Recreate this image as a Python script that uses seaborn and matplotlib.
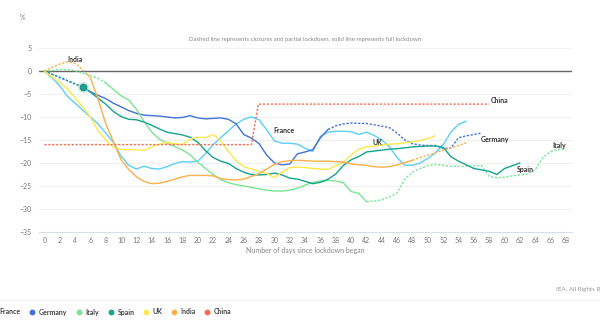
"""Mobility drop after lockdown, by country
"""

import matplotlib
matplotlib.use("Agg")
import matplotlib.pyplot as plt
from matplotlib.lines import Line2D
import seaborn as sns
import pandas as pd

# daily values (%), day 0 = start of lockdown
france = [0, -1.5, -3.2, -5.5, -7.0, -8.5, -10.0, -11.5, -13.5, -15.5, -18.5, -20.5, -21.3, -20.7,
          -21.2, -21.3, -20.8, -20.1, -19.7, -19.8, -19.6, -18.0, -16.0, -14.5, -13.0, -11.5, -10.5,
          -10.0, -10.6, -12.8, -15.2, -15.7, -15.7, -15.9, -16.8, -17.5, -14.2, -13.3, -13.1, -13.1,
          -13.2, -13.8, -13.3, -14.0, -15.0, -16.5, -18.8, -20.5, -20.5, -20.0, -19.0, -17.8, -16.0,
          -13.3, -11.6, -10.9]
germany = [0, -0.7, -1.4, -2.1, -2.8, -3.5, -4.5, -5.3, -6.0, -7.0, -7.8, -8.6, -9.2, -9.6, -9.7,
           -9.8, -10.0, -10.2, -10.1, -9.7, -10.2, -10.4, -10.3, -10.2, -10.5, -11.5, -13.8, -14.6,
           -15.8, -18.3, -20.0, -20.4, -20.2, -18.0, -17.6, -17.1, -14.5, -12.7, -11.9, -11.5, -11.3,
           -11.4, -11.4, -11.7, -12.0, -12.3, -13.5, -15.0, -15.8, -16.1, -16.2, -16.2, -16.8, -16.8,
           -14.5, -14.1, -13.8, -13.5]
italy = [0, 0.1, 0.3, 0.3, 0.1, -0.5, -1.0, -1.6, -2.6, -4.0, -5.4, -6.3, -8.3, -11.0, -13.3, -14.8,
         -15.7, -16.4, -17.2, -18.2, -19.8, -21.2, -22.5, -23.6, -24.3, -24.7, -25.0, -25.3, -25.6,
         -25.9, -26.1, -26.1, -25.9, -25.5, -24.8, -24.2, -23.9, -23.8, -23.9, -24.3, -26.2, -26.6,
         -28.4, -28.3, -28.0, -27.4, -26.5, -23.5, -22.0, -21.2, -20.6, -20.3, -20.5, -20.7, -20.7,
         -20.7, -20.6, -20.6, -22.9, -23.2, -23.1, -22.8, -22.6, -22.4, -21.5, -18.8, -17.5, -17.1,
         -16.9]
spain = [0, -0.7, -1.4, -2.1, -2.8, -3.5, -4.6, -5.9, -7.2, -8.8, -9.9, -10.5, -10.6, -11.1, -11.8,
         -12.6, -13.3, -13.6, -13.9, -14.4, -15.5, -17.3, -18.8, -19.6, -20.1, -21.2, -22.0, -22.5,
         -22.6, -22.5, -22.2, -22.6, -23.3, -23.5, -24.0, -24.5, -24.2, -23.5, -22.4, -20.5, -19.3,
         -18.6, -17.6, -17.4, -17.2, -17.0, -16.9, -16.7, -16.5, -16.4, -16.3, -16.3, -16.6, -18.6,
         -19.6, -20.4, -21.2, -21.5, -21.8, -22.5, -21.2, -20.6, -20.0]
uk = [0, -1.3, -2.5, -3.8, -5.8, -7.8, -10.0, -13.0, -15.0, -16.6, -17.1, -17.1, -17.1, -17.3, -16.5,
      -15.9, -15.5, -15.8, -16.0, -14.8, -14.4, -14.5, -13.8, -15.2, -17.5, -19.5, -20.8, -21.3,
      -21.8, -22.3, -23.2, -22.0, -21.0, -20.9, -21.0, -21.2, -21.3, -21.4, -20.6, -19.8, -18.3,
      -17.0, -16.5, -16.3, -16.1, -15.9, -15.8, -15.6, -15.4, -15.1, -14.7, -14.1]
india = [0, 0.8, 1.5, 2.0, 1.7, 0.3, -1.5, -6.0, -11.5, -15.3, -19.3, -21.4, -23.0, -24.0, -24.5,
         -24.4, -24.0, -23.5, -23.0, -22.7, -22.7, -22.7, -22.8, -23.4, -23.6, -23.7, -23.5, -22.9,
         -22.3, -21.3, -20.3, -19.7, -19.5, -19.4, -19.5, -19.6, -19.6, -19.6, -19.7, -19.8, -20.2,
         -20.4, -20.5, -20.8, -20.9, -20.8, -20.4, -19.9, -19.4, -18.8, -18.3, -17.8, -17.2, -16.8,
         -16.2, -15.6]
china_days = [0, 27, 27.9, 58]
china = [-16.0, -16.0, -7.2, -7.2]

countries = ["France", "Germany", "Italy", "Spain", "UK", "India", "China"]
series = {"France": france, "Germany": germany, "Italy": italy, "Spain": spain,
          "UK": uk, "India": india}
# day ranges with closures / partial lockdown (dashed)
partial = {"France": [], "Germany": [(0, 5), (37, 57)], "Italy": [(0, 8), (42, 68)],
           "Spain": [(0, 5)], "UK": [], "India": [(0, 6), (48, 55)], "China": [(0, 58)]}

colors = {"France": "#5bcff5", "Germany": "#4272d7", "Italy": "#79e694", "Spain": "#17a38e",
          "UK": "#fbe84d", "India": "#fbb04b", "China": "#f56e4f"}

# build long table, one "segment" per run of same lockdown type
rows = []
for name in countries:
    if name == "China":
        days, vals = china_days, china
    else:
        vals = series[name]
        days = list(range(len(vals)))
    cuts = sorted({d for r in partial[name] for d in r} | {days[0], days[-1]})
    for i in range(len(cuts) - 1):
        a, b = cuts[i], cuts[i + 1]
        kind = "partial" if (a, b) in partial[name] else "full"
        for d, v in zip(days, vals):
            if a <= d <= b:
                rows.append({"day": d, "value": v, "country": name,
                             "lockdown": kind, "seg": f"{name}-{i}"})
df = pd.DataFrame(rows)

sns.set_theme(style="white")
plt.rcParams["font.family"] = ["Lato", "DejaVu Sans"]

fig = plt.figure(figsize=(6, 3.23), dpi=100)
ax = fig.add_axes([39 / 600, 1 - 232 / 323, 533 / 600, 184 / 323])

for y in range(-30, 10, 5):
    ax.axhline(y, color="#f0f0f0", lw=0.8, zorder=0)
ax.axhline(0, color="#666666", lw=1.0, zorder=1)

sns.lineplot(data=df, x="day", y="value", hue="country", style="lockdown", units="seg",
             estimator=None, sort=False, palette=colors, hue_order=countries,
             dashes={"full": "", "partial": (1.6, 1.2)}, linewidth=1.0, legend=False, ax=ax)

# hovered point
ax.scatter([5], [spain[5]], s=60, color="#9fd9d3", alpha=0.6, linewidths=0, zorder=4)
ax.scatter([5], [spain[5]], s=22, color=colors["Spain"], edgecolor="#0d7f70",
           linewidths=0.6, zorder=5)

ax.set_xlim(-0.7, 68.8)
ax.set_ylim(-35, 5)
ax.set_xticks(range(0, 70, 2))
ax.set_yticks(range(-35, 10, 5))
for s in ["top", "right", "left"]:
    ax.spines[s].set_visible(False)
ax.spines["bottom"].set_color("#d8dee6")
ax.spines["bottom"].set_linewidth(0.8)
ax.tick_params(axis="x", direction="inout", length=4, width=0.6, color="#c8ced6",
               labelsize=5, labelcolor="#777777", pad=1.5)
ax.tick_params(axis="y", length=0, labelsize=5, labelcolor="#777777", pad=5)
ax.set_xlabel("Number of days since lockdown began", fontsize=5, color="#888888", labelpad=2)
ax.set_ylabel("")

lab = dict(fontsize=5, color="#333333", fontweight="bold", ha="left", va="center")
ax.text(3.0, 2.5, "India", **lab)
ax.text(29.8, -12.9, "France", **lab)
ax.text(58.2, -6.4, "China", **lab)
ax.text(42.8, -15.5, "UK", **lab)
ax.text(56.9, -14.8, "Germany", **lab)
ax.text(66.3, -16.2, "Italy", **lab)
ax.text(61.6, -21.4, "Spain", **lab)

fig.text(305 / 600, 1 - 39 / 323,
         "Dashed line represents closures and partial lockdown, solid line represents full lockdown",
         fontsize=4.3, color="#888888", ha="center", va="center")
fig.text(20 / 600, 1 - 18 / 323, "%", fontsize=5, color="#888888", ha="left", va="center")
fig.text(556 / 600, 1 - 289 / 323, "IEA. All Rights Reserved", fontsize=4.5,
         color="#999999", ha="left", va="center")
fig.add_artist(Line2D([0, 1], [1 - 300 / 323] * 2, color="#f2f2f2", lw=1.0))

handles = [Line2D([], [], marker="o", ls="", markersize=3.2, color=colors[c]) for c in countries]
fig.legend(handles, countries, loc="center left", bbox_to_anchor=(-8.5 / 600, 1 - 312 / 323),
           ncol=7, frameon=False, fontsize=5, handlelength=0.5, handletextpad=0.7,
           columnspacing=1.4, borderpad=0, borderaxespad=0,
           prop={"size": 5, "weight": "bold"}, labelcolor="#444444")

fig.savefig("out.png", dpi=100)
